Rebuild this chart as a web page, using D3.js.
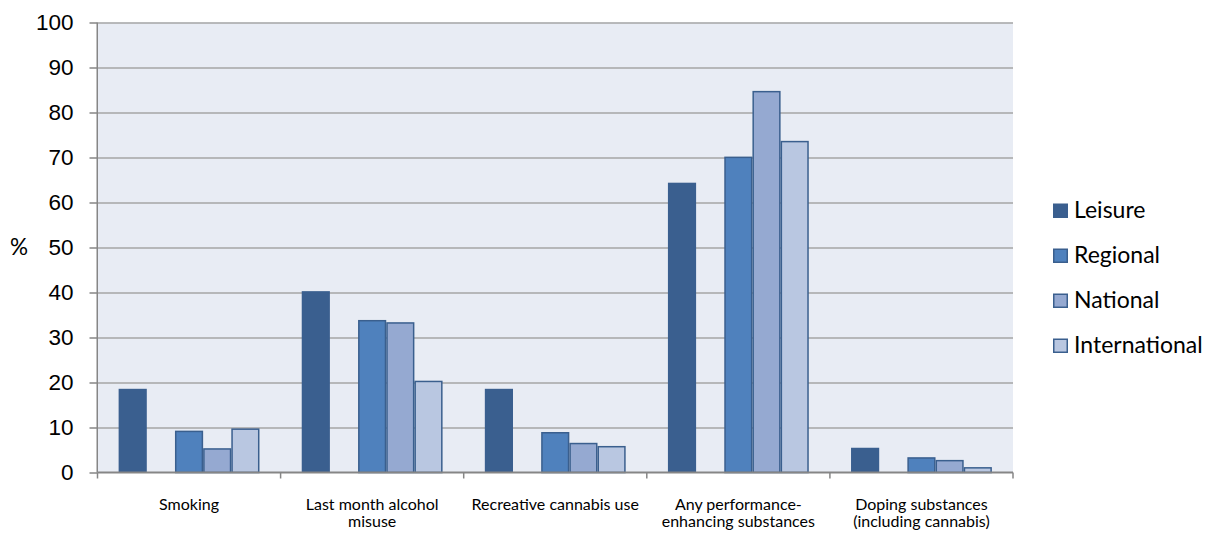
<!DOCTYPE html>
<html>
<head>
<meta charset="utf-8">
<script src="https://cdn.jsdelivr.net/npm/d3@7"></script>
<style>
  body { margin: 0; background: #fff; }
  svg { display: block; }
</style>
</head>
<body>
<div id="chart"></div>
<script>
// ============================================
// DATA
// ============================================

const categories = ['Smoking', 'Alcohol', 'Cannabis', 'PES', 'Doping'];

const categoryLabels = [
  ['Smoking'],
  ['Last month alcohol', 'misuse'],
  ['Recreative cannabis use'],
  ['Any performance-', 'enhancing substances'],
  ['Doping substances', '(including cannabis)']
];

const seriesNames = ['Leisure', 'Regional', 'National', 'International'];

const leisure       = [18.6, 40.3, 18.6, 64.4, 5.5];
const regional      = [9.3, 33.9, 9.0, 70.2, 3.4];
const national      = [5.4, 33.4, 6.6, 84.8, 2.8];
const international = [9.8, 20.4, 5.9, 73.7, 1.2];

const yTicks = [0, 10, 20, 30, 40, 50, 60, 70, 80, 90, 100];

const colors = {
  Leisure: '#3A5F8F',
  Regional: '#4F81BD',
  National: '#95A9D1',
  International: '#B9C7E1',
  border: '#3A5F8E',
  plotBg: '#E8ECF4',
  grid: '#A6A6A6',
  axis: '#868686'
};

const FONT = 'Lato, sans-serif';

// ============================================
// LAYOUT
// ============================================

const width = 1208;
const height = 533;
const margin = { top: 22.5, right: 195, bottom: 60.5, left: 97.5 };
const innerWidth = width - margin.left - margin.right;
const innerHeight = height - margin.top - margin.bottom;

const svg = d3.select('#chart')
  .append('svg')
  .attr('width', width)
  .attr('height', height)
  .attr('font-family', FONT);

const g = svg.append('g')
  .attr('transform', `translate(${margin.left},${margin.top})`);

const x = d3.scaleBand()
  .domain(categories)
  .range([0, innerWidth])
  .padding(0);

// slot 1 is an empty slot between Leisure and the other levels
const slots = ['Leisure', '_gap', 'Regional', 'National', 'International'];
const xInner = d3.scaleBand()
  .domain(slots)
  .range([0, x.bandwidth()])
  .paddingInner(0)
  .paddingOuter(0.75);

const y = d3.scaleLinear()
  .domain([0, 100])
  .range([innerHeight, 0]);

// plot background
g.append('rect')
  .attr('width', innerWidth)
  .attr('height', innerHeight)
  .attr('fill', colors.plotBg);

// grid lines
g.append('g')
  .attr('class', 'grid')
  .call(d3.axisLeft(y).tickValues(yTicks.filter(t => t > 0)).tickSize(-innerWidth).tickFormat(''))
  .call(a => a.select('.domain').remove())
  .selectAll('line')
  .attr('stroke', colors.grid)
  .attr('stroke-width', 1.5);

// ============================================
// BARS
// ============================================

const seriesValues = {
  Leisure: leisure,
  Regional: regional,
  National: national,
  International: international
};

const barData = [];
categories.forEach((c, i) => {
  seriesNames.forEach(s => {
    barData.push({ category: c, series: s, value: seriesValues[s][i] });
  });
});

// Leisure bars have no visible border, the others a dark blue one
const inset = d => d.series === 'Leisure' ? 0 : 0.75;

g.append('g')
  .selectAll('rect')
  .data(barData)
  .join('rect')
  .attr('x', d => x(d.category) + xInner(d.series) + inset(d))
  .attr('y', d => y(d.value) + inset(d))
  .attr('width', d => xInner.bandwidth() - 2 * inset(d))
  .attr('height', d => innerHeight - y(d.value) - inset(d))
  .attr('fill', d => colors[d.series])
  .attr('stroke', d => d.series === 'Leisure' ? 'none' : colors.border)
  .attr('stroke-width', 1.5);

// ============================================
// AXES
// ============================================

const yAxis = g.append('g')
  .call(d3.axisLeft(y).tickValues(yTicks).tickSize(8).tickPadding(16));

yAxis.select('.domain')
  .attr('stroke', colors.axis)
  .attr('stroke-width', 1.5)
  .attr('d', `M-0.25,0V${innerHeight}`);
yAxis.selectAll('line').attr('stroke', colors.axis).attr('stroke-width', 1.5);
yAxis.selectAll('text')
  .attr('fill', '#000')
  .attr('font-size', 22.5);

// x axis: ticks at category boundaries
const xAxis = g.append('g')
  .attr('transform', `translate(0,${innerHeight})`);

xAxis.append('line')
  .attr('x1', 0)
  .attr('x2', innerWidth)
  .attr('stroke', colors.axis)
  .attr('stroke-width', 2);

const boundaries = categories.map(c => x(c)).concat([x.range()[1]]);
xAxis.selectAll('.xtick')
  .data(boundaries)
  .join('line')
  .attr('class', 'xtick')
  .attr('x1', d => d)
  .attr('x2', d => d)
  .attr('y1', 0)
  .attr('y2', 6)
  .attr('stroke', colors.axis)
  .attr('stroke-width', 1.5);

// one text element per label line
const labelLines = [];
categories.forEach((c, i) => {
  categoryLabels[i].forEach((t, j) => labelLines.push({ category: c, line: j, text: t }));
});

xAxis.selectAll('.xlabel')
  .data(labelLines)
  .join('text')
  .attr('class', 'xlabel')
  .attr('x', d => x(d.category) + x.bandwidth() / 2)
  .attr('y', d => 37 + d.line * 17.5)
  .attr('text-anchor', 'middle')
  .attr('font-size', 16)
  .attr('fill', '#000')
  .text(d => d.text);

// y axis title
svg.append('text')
  .attr('x', 19)
  .attr('y', margin.top + y(50))
  .attr('dy', '0.35em')
  .attr('text-anchor', 'middle')
  .attr('font-size', 22.5)
  .text('%');

// ============================================
// LEGEND
// ============================================

const legend = svg.append('g')
  .attr('transform', 'translate(1053,0)');

const legendItems = legend.selectAll('g')
  .data(seriesNames)
  .join('g')
  .attr('transform', (d, i) => `translate(0,${218 + i * 45})`);

legendItems.append('rect')
  .attr('x', 0.75)
  .attr('y', -13.75)
  .attr('width', 13.5)
  .attr('height', 13)
  .attr('fill', d => colors[d])
  .attr('stroke', colors.border)
  .attr('stroke-width', 1.5);

legendItems.append('text')
  .attr('x', 21)
  .attr('y', 0)
  .attr('font-size', 23)
  .attr('fill', '#000')
  .text(d => d);
</script>
</body>
</html>
